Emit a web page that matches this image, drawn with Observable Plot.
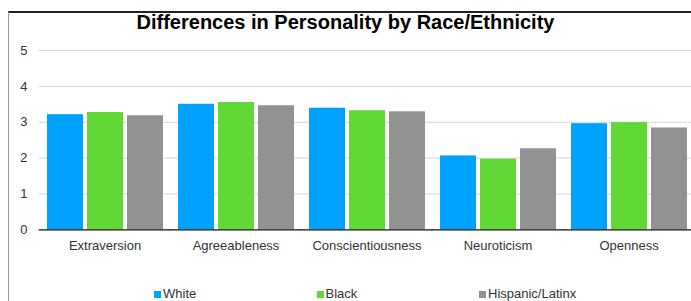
<!DOCTYPE html>
<html>
<head>
<meta charset="utf-8">
<script src="https://cdn.jsdelivr.net/npm/d3@7"></script>
<script src="https://cdn.jsdelivr.net/npm/@observablehq/plot@0.6"></script>
<style>
  html, body { margin: 0; padding: 0; background: #fff; overflow: hidden; }
  body { width: 691px; height: 301px; position: relative; font-family: "Liberation Sans", Arial, sans-serif; }
  #frame { position: absolute; left: 8px; top: 11px; right: 0; bottom: 0; border-top: 2px solid #222; border-left: 1px solid #999; box-sizing: border-box; }
  #title { position: absolute; left: 0; top: 10px; width: 691px; height: 24px; line-height: 24px; text-align: center; font-weight: bold; font-size: 20px; color: #000; }
  #chart { position: absolute; left: 0; top: 30px; }
  #legend { position: absolute; left: 154px; top: 283px; height: 22px; line-height: 22px; font-size: 13px; color: #333; white-space: nowrap; }
  .item { display: inline-block; width: 162.5px; }
  .sw { display: inline-block; width: 7px; height: 7px; margin-right: 2px; vertical-align: 0px; }
</style>
</head>
<body>
<div id="frame"></div>
<div id="title">Differences in Personality by Race/Ethnicity</div>
<div id="chart"></div>
<div id="legend"></div>
<script>
const categories = ["Extraversion", "Agreeableness", "Conscientiousness", "Neuroticism", "Openness"];
const races = ["White", "Black", "Hispanic/Latinx"];
const white = [3.21, 3.50, 3.39, 2.06, 2.96];
const black = [3.27, 3.55, 3.32, 1.97, 2.99];
const hispanic = [3.18, 3.46, 3.29, 2.26, 2.84];
const colors = ["#00a2ff", "#62d836", "#929292"];
const yTicks = [0, 1, 2, 3, 4, 5];
const gridTicks = [1, 2, 3, 4, 5];

const series = [white, black, hispanic];
const table = [];
categories.forEach((c, i) => {
  races.forEach((r, j) => table.push({category: c, race: r, value: series[j][i]}));
});

const chart = Plot.plot({
  width: 691,
  height: 230,
  marginTop: 20,
  marginBottom: 30.7,
  marginLeft: 38,
  marginRight: 0,
  style: {fontFamily: "'Liberation Sans', Arial, sans-serif", fontSize: "13px", color: "#333", background: "transparent", overflow: "hidden"},
  fx: {domain: categories, range: [38, 695], paddingInner: 0.11, paddingOuter: 0.055, label: null, axis: "bottom", tickSize: 0, tickPadding: 11},
  x: {domain: races, paddingInner: 0.1, paddingOuter: 0, axis: null},
  y: {domain: [0, 5], ticks: yTicks, tickSize: 0, tickPadding: 19, label: null, tickFormat: d => String(d)},
  color: {domain: races, range: colors},
  facet: {data: table, x: "category"},
  marks: [
    Plot.ruleY(gridTicks, {stroke: "#d4d4d4", strokeWidth: 1, insetLeft: -7.3, insetRight: -7.3}),
    Plot.barY(table, {x: "race", y: "value", fill: "race"}),
    Plot.ruleY([0], {stroke: "#111", strokeWidth: 1.2, insetLeft: -7.3, insetRight: -7.3})
  ]
});
document.getElementById("chart").appendChild(chart);

const legend = document.getElementById("legend");
races.forEach((r, i) => {
  const it = document.createElement("span");
  it.className = "item";
  const sw = document.createElement("span");
  sw.className = "sw";
  sw.style.background = colors[i];
  it.appendChild(sw);
  it.appendChild(document.createTextNode(r));
  legend.appendChild(it);
});
</script>
</body>
</html>
